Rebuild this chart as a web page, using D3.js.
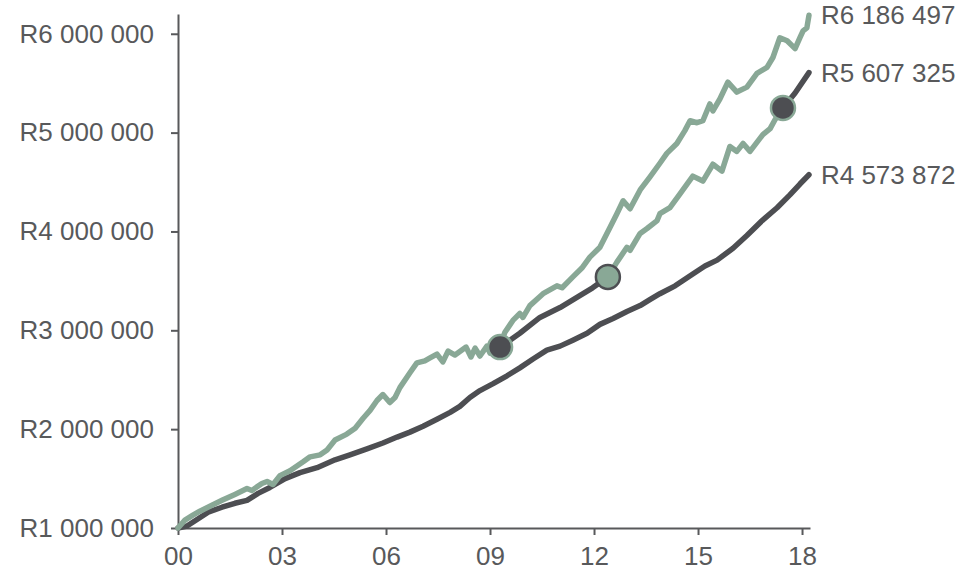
<!DOCTYPE html>
<html>
<head>
<meta charset="utf-8">
<script src="https://cdn.jsdelivr.net/npm/d3@7"></script>
<style>
  body { margin: 0; background: #fff; }
  text { font-family: "Liberation Sans", Arial, sans-serif; }
</style>
</head>
<body>
<div id="chart"></div>
<script>
// years since 2000 (decimal) and fund values
var greenYears = [0, 0.20, 0.43, 0.63, 0.92, 1.27, 1.64, 1.99, 2.13, 2.42, 2.57, 2.74, 2.94, 3.23, 3.61, 3.81,
  4.10, 4.30, 4.53, 4.87, 5.11, 5.34, 5.54, 5.74, 5.91, 6.11, 6.26, 6.40, 6.69, 6.89, 7.12, 7.27, 7.47,
  7.64, 7.79, 7.99, 8.19, 8.31, 8.45, 8.57, 8.71, 8.91, 9.00, 9.29, 9.43, 9.66, 9.86, 9.95, 10.15, 10.53,
  10.93, 11.08, 11.39, 11.65, 11.88, 12.17, 12.46, 12.66, 12.84, 13.04, 13.33, 13.61, 13.90, 14.10, 14.39,
  14.62, 14.77, 14.97, 15.14, 15.34, 15.43, 15.63, 15.86, 16.12, 16.41, 16.70, 16.99, 17.16, 17.36, 17.57,
  17.80, 17.94, 18.03, 18.14, 18.20];
var greenValues = [1000000, 1080000, 1130000, 1170000, 1220000, 1280000, 1340000, 1400000, 1380000, 1450000,
  1470000, 1440000, 1530000, 1580000, 1670000, 1720000, 1740000, 1790000, 1890000, 1950000, 2010000, 2110000,
  2190000, 2290000, 2350000, 2270000, 2320000, 2420000, 2570000, 2670000, 2690000, 2720000, 2760000, 2680000,
  2790000, 2750000, 2800000, 2830000, 2730000, 2820000, 2740000, 2840000, 2770000, 2850000, 2980000, 3100000,
  3170000, 3130000, 3250000, 3370000, 3450000, 3430000, 3540000, 3630000, 3740000, 3840000, 4040000, 4180000,
  4310000, 4230000, 4420000, 4550000, 4690000, 4790000, 4890000, 5020000, 5120000, 5100000, 5120000, 5290000,
  5220000, 5340000, 5510000, 5410000, 5460000, 5600000, 5660000, 5760000, 5960000, 5930000, 5850000, 5960000,
  6030000, 6060000, 6186497];

var darkYears = [0, 0.26, 0.87, 1.27, 1.64, 1.99, 2.31, 2.65, 3.09, 3.52, 4.01, 4.53, 4.96, 5.45, 5.91, 6.32,
  6.69, 7.07, 7.47, 7.85, 8.13, 8.42, 8.71, 9.09, 9.49, 9.86, 10.24, 10.64, 11.02, 11.39, 11.80, 12.17, 12.55,
  12.95, 13.33, 13.61, 13.90, 14.34, 14.85, 15.20, 15.55, 16.01, 16.41, 16.85, 17.28, 17.65, 17.94, 18.20];
var darkValues = [1000000, 1020000, 1160000, 1210000, 1250000, 1280000, 1350000, 1410000, 1500000, 1560000,
  1610000, 1690000, 1740000, 1800000, 1860000, 1920000, 1970000, 2030000, 2100000, 2170000, 2230000, 2320000,
  2390000, 2460000, 2540000, 2620000, 2710000, 2800000, 2840000, 2900000, 2970000, 3060000, 3120000, 3190000,
  3250000, 3310000, 3370000, 3450000, 3570000, 3650000, 3710000, 3830000, 3960000, 4110000, 4240000, 4370000,
  4480000, 4573872];

// switching strategy, from the first switch onwards (before that it follows the green line)
var switchYears = [9.29, 12.40, 17.45];
var mixYears = [9.29, 9.86, 10.44, 11.02, 11.59, 11.96, 12.40, 12.66, 12.95, 13.04, 13.33, 13.53, 13.82,
  13.90, 14.19, 14.48, 14.85, 15.14, 15.43, 15.69, 15.92, 16.12, 16.30, 16.50, 16.87, 17.08, 17.22, 17.45,
  17.80, 18.20];
var mixValues = [2830000, 2970000, 3130000, 3230000, 3350000, 3430000, 3540000, 3690000, 3840000, 3810000,
  3980000, 4030000, 4110000, 4180000, 4240000, 4380000, 4560000, 4510000, 4680000, 4610000, 4860000, 4810000,
  4890000, 4810000, 4980000, 5040000, 5130000, 5250000, 5400000, 5607325];

var yTicks = [1000000, 2000000, 3000000, 4000000, 5000000, 6000000];
var xTicks = [0, 3, 6, 9, 12, 15, 18];

var green = "#89a896",
  dark = "#4d4e52",
  textCol = "#58595b",
  axisCol = "#58595b";

var width = 964,
  height = 572;

var svg = d3.select("#chart")
  .append("svg")
  .attr("width", width)
  .attr("height", height);

var x = d3.scaleLinear().domain([0, 18.23]).range([178, 810]);
var y = d3.scaleLinear().domain([1000000, 6200000]).range([528, 14]);

function money(v) {
  return "R" + d3.format(",")(v).replace(/,/g, " ");
}

// axes
var yAxis = svg.append("g")
  .attr("transform", "translate(178,0)")
  .call(d3.axisLeft(y).tickValues(yTicks).tickSize(7).tickPadding(17).tickSizeOuter(0).tickFormat(money));
var xAxis = svg.append("g")
  .attr("transform", "translate(0,528)")
  .call(d3.axisBottom(x).tickValues(xTicks).tickSize(7).tickPadding(12).tickSizeOuter(0)
    .tickFormat(d3.format("02d")));

[yAxis, xAxis].forEach(function(a) {
  a.select(".domain").attr("stroke", axisCol).attr("stroke-width", 2);
  a.selectAll(".tick line").attr("stroke", axisCol).attr("stroke-width", 2);
  a.selectAll(".tick text")
    .attr("fill", textCol)
    .style("font-size", "26px")
    .style("font-family", "'Liberation Sans', Arial, sans-serif");
});

var line = d3.line()
  .x(function(d) { return x(d[0]); })
  .y(function(d) { return y(d[1]); });

var darkData = d3.zip(darkYears, darkValues);
var greenData = d3.zip(greenYears, greenValues);
var mixData = d3.zip(mixYears, mixValues);

svg.append("path")
  .attr("d", line(darkData))
  .attr("fill", "none")
  .attr("stroke", dark)
  .attr("stroke-width", 5.5)
  .attr("stroke-linejoin", "round")
  .attr("stroke-linecap", "round");

svg.append("path")
  .attr("d", line(greenData))
  .attr("fill", "none")
  .attr("stroke", green)
  .attr("stroke-width", 5.5)
  .attr("stroke-linejoin", "round")
  .attr("stroke-linecap", "round");

// segments of the switching line, coloured by what it holds
var segColors = [dark, green, dark];
switchYears.forEach(function(s, i) {
  var end = i + 1 < switchYears.length ? switchYears[i + 1] : Infinity;
  var seg = mixData.filter(function(d) { return d[0] >= s && d[0] <= end; });
  svg.append("path")
    .attr("d", line(seg))
    .attr("fill", "none")
    .attr("stroke", segColors[i])
    .attr("stroke-width", 5.5)
    .attr("stroke-linejoin", "round")
    .attr("stroke-linecap", "round");
});

// switch markers
switchYears.forEach(function(s, i) {
  var pt = mixData.find(function(d) { return d[0] === s; });
  svg.append("circle")
    .attr("cx", x(pt[0]))
    .attr("cy", y(pt[1]))
    .attr("r", 12)
    .attr("fill", segColors[i])
    .attr("stroke", segColors[i] === dark ? green : dark)
    .attr("stroke-width", 2.5);
});

// end labels
[greenData, mixData, darkData].forEach(function(data) {
  var last = data[data.length - 1];
  svg.append("text")
    .attr("x", x(last[0]) + 12)
    .attr("y", y(last[1]))
    .attr("dy", "0.35em")
    .attr("fill", textCol)
    .style("font-size", "26px")
    .text(money(last[1]));
});
</script>
</body>
</html>
